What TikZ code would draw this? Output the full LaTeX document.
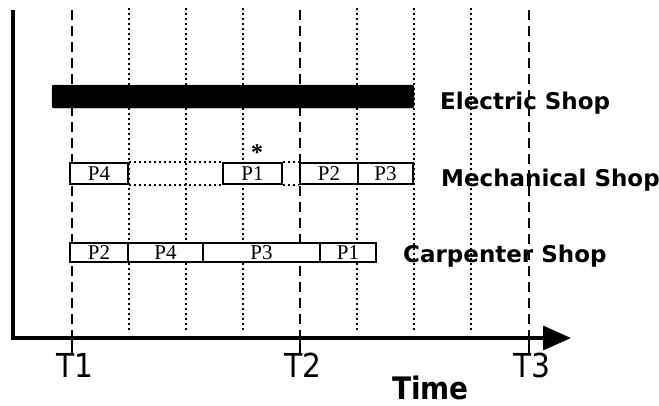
\documentclass[tikz,border=0pt]{standalone}
\usepackage{fontspec}
\setmainfont{Liberation Serif}
\setsansfont{DejaVu Sans}
\newfontfamily\condfont{DejaVu Sans Condensed}
\usetikzlibrary{arrows.meta}
\tikzset{
  job box/.style={
    draw,
    fill=white,
    line width=2.6pt,
    inner sep=0pt,
    font=\fontsize{21}{21}\selectfont
  },
  mech job/.style={job box,minimum height=21pt},
  carp job/.style={job box,minimum height=19pt},
  time line/.style={
    line width=2.8pt,
    dash pattern=on 10pt off 6pt
  },
  grid line/.style={
    line width=2.2pt,
    dash pattern=on 2pt off 3pt
  },
  shop label/.style={
    anchor=base west,
    inner sep=0pt,
    font=\sffamily\bfseries\fontsize{23}{23}\selectfont
  },
  time label/.style={
    anchor=north,
    inner sep=0pt,
    font=\condfont\fontsize{33}{33}\selectfont
  },
  time axis/.style={
    line width=3.4pt,
    -{Triangle[length=28pt,width=24pt]}
  }
}

\begin{document}
\begin{tikzpicture}[x=1pt,y=-1pt]
  \useasboundingbox (0,0) rectangle (659,405);

  \node[shop label] (electric) at (440,109) {Electric Shop};
  \node[shop label] (mechanical) at (441,186) {Mechanical Shop};
  \node[shop label] (carpenter) at (403,262) {Carpenter Shop};
  \node[anchor=base west,inner sep=0pt,font=\condfont\bfseries\fontsize{31}{31}\selectfont] (time) at (392,399) {Time};

  \foreach \x in {129,186,243,357,414,471}
    \draw[grid line] (\x,8) -- (\x,330);
  \foreach \x/\t in {72/T1,300/T2,529/T3} {
    \draw[time line] (\x,10) -- (\x,338);
    \draw[line width=2.8pt] (\x,338) -- (\x,354);
    \node[time label] (\t) at (\x+3,353) {\t};
  }

  \coordinate (top) at (13,10);
  \coordinate (origin) at (13,338);
  \coordinate (tip) at (571,338);
  \draw[time axis] (top) -- (origin) -- (tip);

  \node[draw,fill=black,rounded corners=2pt,minimum width=362pt,minimum height=23pt,inner sep=0pt] (elec) at (233,96.5) {};

  \node[mech job,minimum width=58pt] (m4) at (99,173.5) {P4};
  \node[mech job,minimum width=59pt] (m1) at (252.5,173.5) {P1};
  \node[mech job,minimum width=58pt] (m2) at (329,173.5) {P2};
  \node[mech job,minimum width=55pt] (m3) at (385.5,173.5) {P3};
  \node[anchor=base,inner sep=0pt,font=\bfseries\fontsize{24}{24}\selectfont] (star) at (257,160) {*};
  \draw[grid line] (m4.north east) -- (m1.north west);
  \draw[grid line] (m4.south east) -- (m1.south west);
  \draw[grid line] (m1.north east) -- (m2.north west);
  \draw[grid line] (m1.south east) -- (m2.south west);

  \node[carp job,minimum width=58pt] (c2) at (99,252.5) {P2};
  \node[carp job,minimum width=75pt] (c4) at (165.5,252.5) {P4};
  \node[carp job,minimum width=117pt] (c3) at (261.5,252.5) {P3};
  \node[carp job,minimum width=56pt] (c1) at (348,252.5) {P1};
\end{tikzpicture}
\end{document}
